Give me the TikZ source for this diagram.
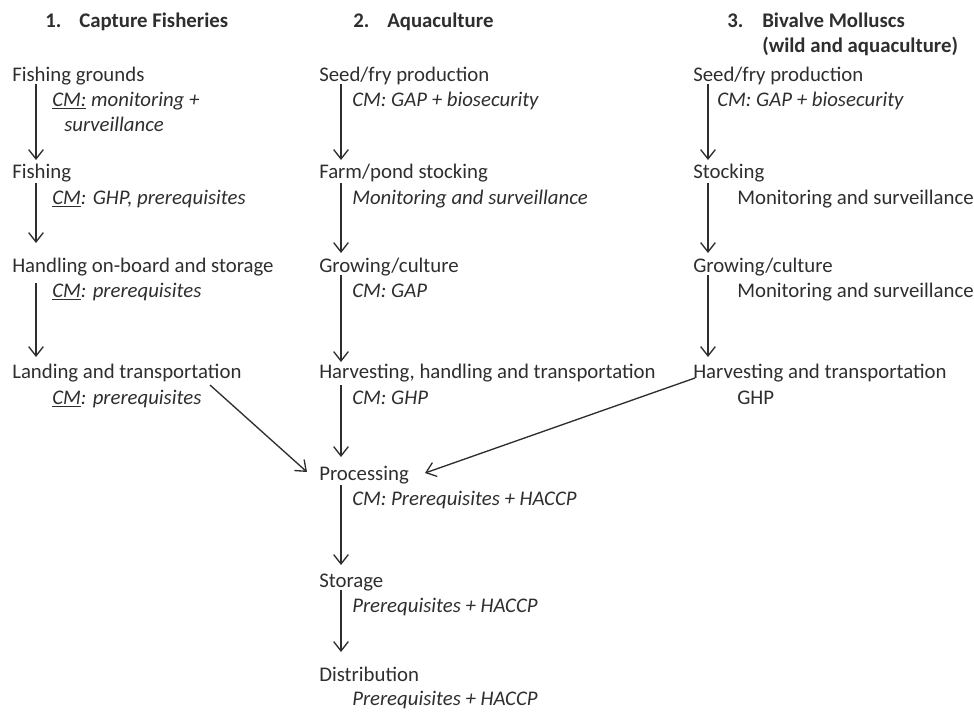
\documentclass[tikz,border=0pt]{standalone}
\usepackage{fontspec}
\setmainfont{Carlito}
\usetikzlibrary{arrows.meta,calc}
\definecolor{ink}{HTML}{2E2E2E}
\begin{document}
\begin{tikzpicture}[x=0.75pt,y=-0.75pt,
  lbl/.style={anchor=base west,inner sep=0pt,text=ink,font=\fontsize{15.6}{18}\selectfont},
  cmtxt/.style={lbl,font=\fontsize{15.6}{18}\selectfont\itshape},
  ttl/.style={lbl,font=\fontsize{15.6}{18}\selectfont\bfseries},
  arr/.style={draw=ink,line width=1pt,-{Straight Barb[length=7pt,width=11pt,line width=1pt]}}]
\useasboundingbox (0,0) rectangle (974,711);
% titles
\node[ttl] (t1n) at (45,27) {1.};
\node[ttl] (t1) at (79,27) {Capture Fisheries};
\node[ttl] (t2n) at (353,27) {2.};
\node[ttl] (t2) at (387,27) {Aquaculture};
\node[ttl] (t3n) at (727,27) {3.};
\node[ttl] (t3) at (762,27) {Bivalve Molluscs};
\node[ttl] (t3b) at (762,52) {(wild and aquaculture)};
% column 1
\node[lbl] (fg) at (12,81) {Fishing grounds};
\node[cmtxt] (fgc) at (52,106) {\underline{CM:} monitoring +};
\node[cmtxt] (fgc2) at (64,131) {surveillance};
\node[lbl] (fi) at (12,178) {Fishing};
\node[cmtxt] (fic) at (52,204) {\underline{CM}: GHP, prerequisites};
\node[lbl] (ho) at (12,272) {Handling on-board and storage};
\node[cmtxt] (hoc) at (52,297) {\underline{CM}: prerequisites};
\node[lbl] (la) at (12,378) {Landing and transportation};
\node[cmtxt] (lac) at (52,404) {\underline{CM}: prerequisites};
% column 2
\node[lbl] (sf) at (319,81) {Seed/fry production};
\node[cmtxt] (sfc) at (352,106) {CM: GAP + biosecurity};
\node[lbl] (fp) at (319,178) {Farm/pond stocking};
\node[cmtxt] (fpc) at (352,204) {Monitoring and surveillance};
\node[lbl] (gc) at (319,272) {Growing/culture};
\node[cmtxt] (gcc) at (352,297) {CM: GAP};
\node[lbl] (hh) at (319,378) {Harvesting, handling and transportation};
\node[cmtxt] (hhc) at (352,404) {CM: GHP};
\node[lbl] (pr) at (319,480) {Processing};
\node[cmtxt] (prc) at (352,505) {CM: Prerequisites + HACCP};
\node[lbl] (st) at (319,587) {Storage};
\node[cmtxt] (stc) at (352,612) {Prerequisites + HACCP};
\node[lbl] (di) at (319,681) {Distribution};
\node[cmtxt] (dic) at (352,705) {Prerequisites + HACCP};
% column 3
\node[lbl] (bs) at (693,81) {Seed/fry production};
\node[cmtxt] (bsc) at (717,106) {CM: GAP + biosecurity};
\node[lbl] (bk) at (693,178) {Stocking};
\node[lbl] (bkc) at (737,204) {Monitoring and surveillance};
\node[lbl] (bg) at (693,272) {Growing/culture};
\node[lbl] (bgc) at (737,297) {Monitoring and surveillance};
\node[lbl] (bh) at (693,378) {Harvesting and transportation};
\node[lbl] (bhc) at (737,404) {GHP};
% arrows column 1
\draw[arr] ($(fg.base west)+(24,3)$) -- ($(fi.base west)+(24,-18)$);
\draw[arr] ($(fi.base west)+(24,5)$) -- ($(ho.base west)+(24,-29)$);
\draw[arr] ($(ho.base west)+(24,11)$) -- ($(la.base west)+(24,-21)$);
\draw[arr] ($(la.base west)+(198,7)$) -- ($(pr.base west)+(-12,-8)$);
% arrows column 2
\draw[arr] ($(sf.base west)+(22,3)$) -- ($(fp.base west)+(22,-18)$);
\draw[arr] ($(fp.base west)+(22,5)$) -- ($(gc.base west)+(22,-19)$);
\draw[arr] ($(gc.base west)+(22,3)$) -- ($(hh.base west)+(22,-16)$);
\draw[arr] ($(hh.base west)+(22,7)$) -- ($(pr.base west)+(22,-23)$);
\draw[arr] ($(pr.base west)+(22,5)$) -- ($(st.base west)+(22,-22)$);
\draw[arr] ($(st.base west)+(22,3)$) -- ($(di.base west)+(22,-29)$);
% arrows column 3
\draw[arr] ($(bs.base west)+(15,3)$) -- ($(bk.base west)+(15,-18)$);
\draw[arr] ($(bk.base west)+(15,5)$) -- ($(bg.base west)+(15,-19)$);
\draw[arr] ($(bg.base west)+(15,3)$) -- ($(bh.base west)+(15,-21)$);
\draw[arr] ($(bh.base west)+(2,0)$) -- ($(pr.base west)+(106,-7)$);
\end{tikzpicture}
\end{document}
